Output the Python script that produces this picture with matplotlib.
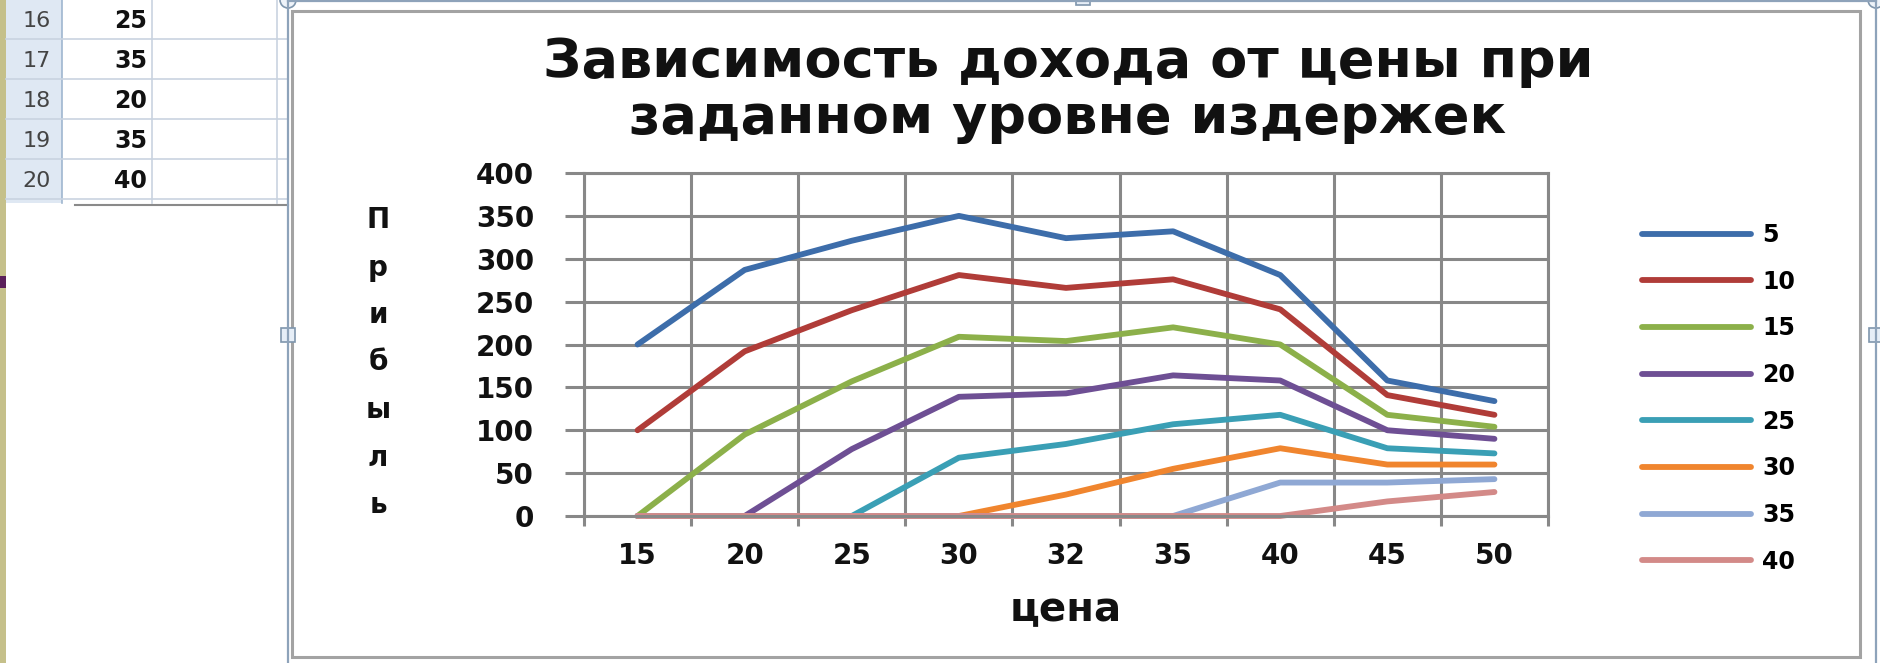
import matplotlib
matplotlib.use("Agg")
import matplotlib.pyplot as plt
from matplotlib.patches import Rectangle, Circle

# ---- данные графика ----
цены = ["15", "20", "25", "30", "32", "35", "40", "45", "50"]
издержки = ["5", "10", "15", "20", "25", "30", "35", "40"]

прибыль_5 = [200, 287, 321, 350, 324, 332, 281, 158, 134]
прибыль_10 = [100, 192, 240, 281, 266, 276, 241, 141, 118]
прибыль_15 = [0, 95, 157, 209, 204, 220, 200, 118, 104]
прибыль_20 = [0, 0, 78, 139, 143, 164, 158, 100, 90]
прибыль_25 = [0, 0, 0, 68, 84, 107, 118, 79, 73]
прибыль_30 = [0, 0, 0, 0, 25, 55, 79, 60, 60]
прибыль_35 = [0, 0, 0, 0, 0, 0, 39, 39, 43]
прибыль_40 = [0, 0, 0, 0, 0, 0, 0, 17, 28]
серии = [прибыль_5, прибыль_10, прибыль_15, прибыль_20,
         прибыль_25, прибыль_30, прибыль_35, прибыль_40]

цвета = ["#3D6DAA", "#B03C38", "#8CB04A", "#6E4F94",
         "#3A9FB5", "#F0852E", "#8FA8D4", "#D38A88"]

# кусок таблицы Excel слева
строки = ["16", "17", "18", "19", "20"]
значения = ["25", "35", "20", "35", "40"]

заголовок = ["Зависимость дохода от цены при", "заданном уровне издержек"]
подпись_y = "Прибыль"
подпись_x = "цена"

W, H = 1880, 663
fig = plt.figure(figsize=(W / 100, H / 100), dpi=100)
fig.patch.set_facecolor("white")

# фон в пикселях: таблица, рамка диаграммы
bg = fig.add_axes([0, 0, 1, 1])
bg.set_xlim(0, W)
bg.set_ylim(H, 0)
bg.axis("off")

bg.add_patch(Rectangle((0, 0), 6, H, color="#c5c08a", lw=0))
bg.add_patch(Rectangle((0, 276), 6, 12, color="#5a1f5a", lw=0))
bg.add_patch(Rectangle((6, 0), 56, 203, facecolor="#dfe8f3", edgecolor="none"))
bg.plot([62, 62], [0, 203], color="#9fb6cf", lw=1.2)
for i, (n, v) in enumerate(zip(строки, значения)):
    y0 = 1 + 40 * i
    bg.plot([6, 288], [y0 + 38, y0 + 38], color="#c9d3e0", lw=1.2)
    bg.text(37, y0 + 20, n, ha="center", va="center", fontsize=16, color="#444444",
            family="Liberation Sans Narrow")
    bg.text(147, y0 + 20, v, ha="right", va="center", fontsize=17, color="#111111",
            family="Liberation Sans Narrow", weight="bold")
for x in [152, 277]:
    bg.plot([x, x], [0, 203], color="#c9d3e0", lw=1.2)
bg.plot([75, 288], [205, 205], color="#8a8a8a", lw=1.5)

# рамка диаграммы и маркеры выделения
bg.add_patch(Rectangle((292, 11), 1568, 646, facecolor="white", edgecolor="#a3a3a3", lw=2.2))
for x in [288, 1876]:
    bg.plot([x, x], [0, H], color="#8ea3ba", lw=1.6)
bg.plot([288, 1876], [1, 1], color="#8ea3ba", lw=1.6)
for x in [288, 1876]:
    bg.add_patch(Rectangle((x - 7, 328), 14, 14, facecolor="#e6eef7", edgecolor="#7f96ad", lw=1.2))
    bg.add_patch(Circle((x, 0), 8, facecolor="#eef3f9", edgecolor="#7f96ad", lw=1.2))
bg.add_patch(Rectangle((1076, -7), 14, 12, facecolor="#e6eef7", edgecolor="#7f96ad", lw=1.2))

# заголовок и подписи
bg.text(1068, 90, "\n".join(заголовок), ha="center", va="center", fontsize=39,
        weight="bold", linespacing=1.08, color="#111111")
for i, ch in enumerate(подпись_y):
    bg.text(378, 220 + 47.5 * i, ch, ha="center", va="center", fontsize=20,
            weight="bold", color="#111111")
bg.text(1066, 610, подпись_x, ha="center", va="center", fontsize=29,
        weight="bold", color="#111111")

# область построения
left, right, top, bottom = 584, 1548, 173, 516
ax = fig.add_axes([left / W, (H - bottom) / H, (right - left) / W, (bottom - top) / H])
ax.set_facecolor("white")
x = list(range(len(цены)))
for серия, цвет, метка in zip(серии, цвета, издержки):
    ax.plot(x, серия, color=цвет, lw=4.2, label=метка, solid_capstyle="round",
            solid_joinstyle="round", clip_on=False)

ax.set_xlim(-0.5, len(цены) - 0.5)
ax.set_ylim(0, 400)
ax.set_yticks(range(0, 401, 50))
ax.set_xticks(x)
ax.set_xticklabels(цены)
ax.set_xticks([i - 0.5 for i in range(len(цены) + 1)], minor=True)
ax.grid(axis="y", which="major", color="#888888", lw=2.2)
ax.grid(axis="x", which="minor", color="#888888", lw=2.2)
ax.set_axisbelow(True)
for s in ax.spines.values():
    s.set_color("#888888")
    s.set_linewidth(2.2)
ax.tick_params(axis="y", length=14, width=2.2, color="#888888", pad=22,
               labelsize=20, labelcolor="#111111")
ax.tick_params(axis="x", which="major", length=0, pad=19, labelsize=20, labelcolor="#111111")
ax.tick_params(axis="x", which="minor", length=7, width=2.2, color="#888888")
for lab in ax.get_xticklabels() + ax.get_yticklabels():
    lab.set_fontweight("bold")

fig.legend(loc="upper left", bbox_to_anchor=(1642 / W, 1 - 223 / H), frameon=False,
           prop={"weight": "bold", "size": 17}, handlelength=4.6, handletextpad=0.5,
           labelspacing=0.96, borderpad=0, borderaxespad=0)

fig.savefig("out.png", dpi=100)
